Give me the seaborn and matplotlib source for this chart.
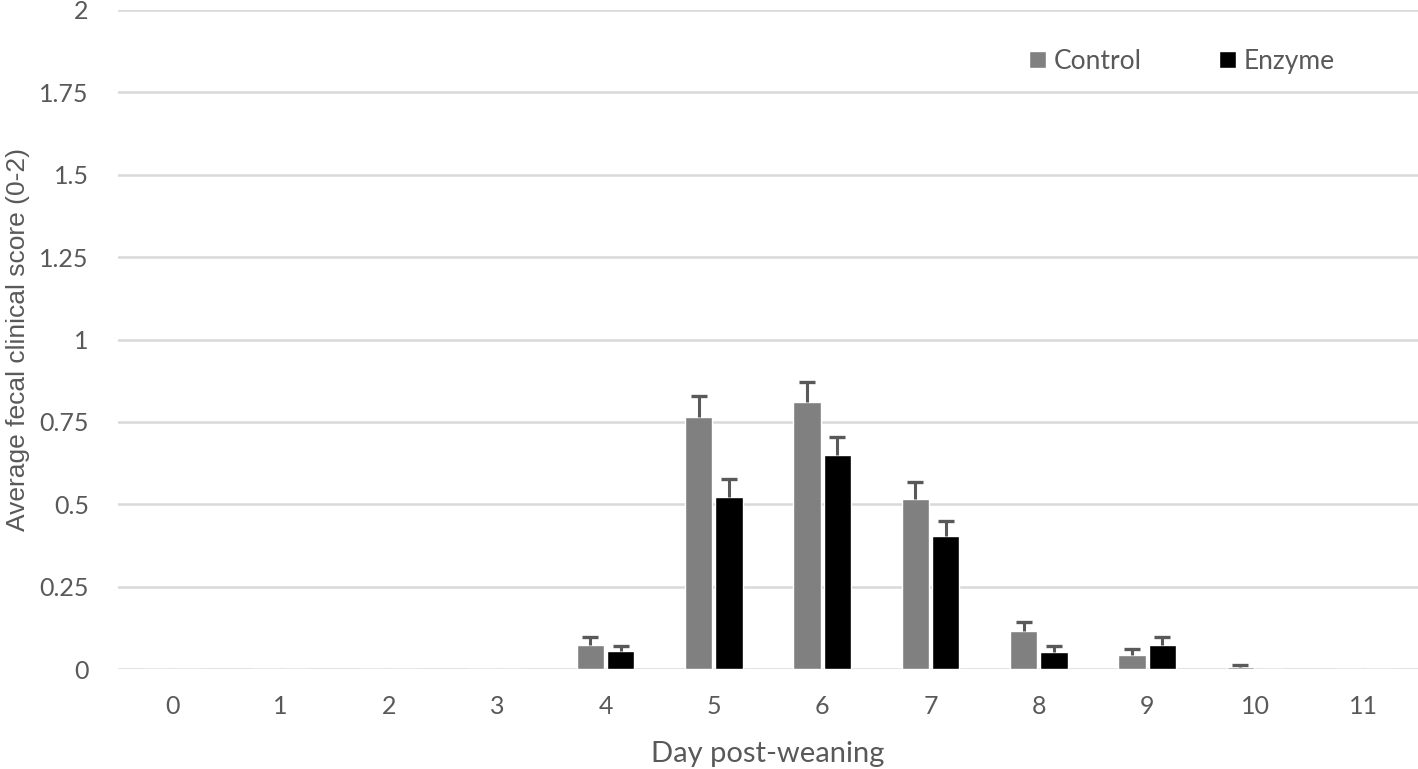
import numpy as np
import pandas as pd
import seaborn as sns
from matplotlib import pyplot as plt

days = [0, 1, 2, 3, 4, 5, 6, 7, 8, 9, 10, 11]
control = [0, 0, 0, 0, 0.073, 0.765, 0.81, 0.516, 0.116, 0.042, 0.006, 0]
control_err = [0, 0, 0, 0, 0.025, 0.063, 0.06, 0.052, 0.027, 0.018, 0.005, 0]
enzyme = [0, 0, 0, 0, 0.055, 0.522, 0.65, 0.404, 0.053, 0.073, 0, 0]
enzyme_err = [0, 0, 0, 0, 0.015, 0.055, 0.055, 0.045, 0.018, 0.024, 0, 0]
groups = ["Control", "Enzyme"]
yticks = [0, 0.25, 0.5, 0.75, 1, 1.25, 1.5, 1.75, 2]
ytick_labels = ["0", "0.25", "0.5", "0.75", "1", "1.25", "1.5", "1.75", "2"]

df = pd.DataFrame({
    "day": days * 2,
    "score": control + enzyme,
    "group": ["Control"] * len(days) + ["Enzyme"] * len(days),
})

sns.set_style("white")
plt.rcParams['font.family'] = ['Lato', 'DejaVu Sans']
text_col = "#595959"

fig = plt.figure(figsize=(14.18, 7.69), dpi=100)
ax = fig.add_axes([0.0832, 0.130, 0.9168, 0.857])

sns.barplot(data=df, x="day", y="score", hue="group", hue_order=groups,
            palette={"Control": "#808080", "Enzyme": "#000000"},
            width=0.56, gap=0.1, errorbar=None, ax=ax, zorder=3)

# upper-only error bars (stem + top cap)
for cont, errs in zip(ax.containers, [control_err, enzyme_err]):
    for bar, e in zip(cont, errs):
        if e == 0:
            continue
        xc = bar.get_x() + bar.get_width() / 2
        top = bar.get_height()
        ax.vlines(xc, top, top + e, color=text_col, linewidth=2.2, zorder=4)
        ax.plot([xc], [top + e], marker="_", markersize=11, markeredgewidth=2.4,
                color=text_col, zorder=4)

ax.set_ylim(0, 2)
ax.set_xlim(-0.5, 11.5)
ax.set_yticks(yticks)
ax.set_yticklabels(ytick_labels)
ax.yaxis.grid(True, color="#d9d9d9", linewidth=1.8, zorder=0)
ax.set_axisbelow(True)
sns.despine(ax=ax, left=True, bottom=True)
ax.tick_params(axis="both", length=0, labelsize=18, labelcolor=text_col)
ax.tick_params(axis="x", pad=19)
ax.tick_params(axis="y", pad=21)

ax.set_xlabel("Day post-weaning", fontsize=21, color=text_col, labelpad=16)
ax.set_ylabel("Average fecal clinical score (0-2)", fontsize=19, color=text_col,
              labelpad=7, family=["Liberation Sans", "DejaVu Sans"])

leg = ax.legend(loc="center right", bbox_to_anchor=(0.936, 0.922), ncol=2, frameon=False,
                fontsize=19, handlelength=0.65, handleheight=0.65, handletextpad=0.3,
                columnspacing=2.9, borderaxespad=0, borderpad=0)
for t in leg.get_texts():
    t.set_color(text_col)

fig.savefig("out.png", dpi=100)
